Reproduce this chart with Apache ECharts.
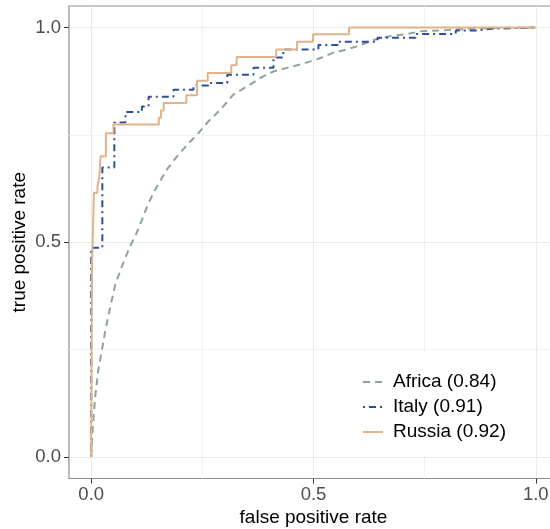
<!DOCTYPE html>
<html>
<head>
<meta charset="utf-8">
<script src="https://cdn.jsdelivr.net/npm/echarts@6/dist/echarts.min.js"></script>
<style>
  html, body { margin: 0; padding: 0; background: #fff; }
  #main { width: 550px; height: 529px; }
</style>
</head>
<body>
<div id="main"></div>
<script>
var seriesNames = ["Africa (0.84)", "Italy (0.91)", "Russia (0.92)"];
var majorTicks = [0, 0.5, 1];
var minorTicks = [0.25, 0.75];

// [false positive rate, true positive rate]
var africa = [
  [0, 0], [0.003, 0.063], [0.009, 0.141], [0.016, 0.203], [0.024, 0.249],
  [0.032, 0.296], [0.043, 0.350], [0.054, 0.401], [0.069, 0.444], [0.088, 0.492],
  [0.099, 0.514], [0.114, 0.552], [0.129, 0.592], [0.148, 0.630], [0.170, 0.669],
  [0.193, 0.700], [0.216, 0.727], [0.242, 0.755], [0.264, 0.782], [0.291, 0.809],
  [0.320, 0.844], [0.351, 0.863], [0.381, 0.883], [0.411, 0.898], [0.441, 0.906],
  [0.471, 0.914], [0.493, 0.921], [0.516, 0.929], [0.546, 0.942], [0.568, 0.947],
  [0.598, 0.956], [0.628, 0.968], [0.651, 0.976], [0.681, 0.981], [0.711, 0.985],
  [0.741, 0.991], [0.801, 0.994], [0.869, 0.998], [0.921, 0.999], [1, 1]
];

var italy = [
  [0, 0], [0, 0.487], [0.025, 0.487], [0.025, 0.674], [0.052, 0.674],
  [0.052, 0.779], [0.077, 0.779], [0.077, 0.803], [0.114, 0.803], [0.114, 0.816],
  [0.129, 0.816], [0.129, 0.839], [0.185, 0.839], [0.185, 0.855], [0.230, 0.855],
  [0.230, 0.865], [0.264, 0.865], [0.264, 0.871], [0.306, 0.871], [0.306, 0.890],
  [0.365, 0.890], [0.365, 0.906], [0.410, 0.906], [0.410, 0.930], [0.432, 0.930],
  [0.432, 0.949], [0.511, 0.949], [0.511, 0.959], [0.556, 0.959], [0.556, 0.967],
  [0.644, 0.967], [0.644, 0.976], [0.730, 0.976], [0.730, 0.985], [0.820, 0.985],
  [0.820, 0.993], [0.865, 0.993], [0.865, 0.997], [0.900, 0.997], [0.900, 1], [1, 1]
];

var russia = [
  [0, 0], [0.001, 0.25], [0.002, 0.46], [0.004, 0.53], [0.006, 0.615],
  [0.014, 0.615], [0.014, 0.63], [0.018, 0.63], [0.018, 0.65], [0.021, 0.65],
  [0.021, 0.70], [0.033, 0.70], [0.033, 0.754], [0.050, 0.754], [0.050, 0.774],
  [0.152, 0.774], [0.152, 0.79], [0.157, 0.79], [0.157, 0.807], [0.163, 0.807],
  [0.163, 0.824], [0.214, 0.824], [0.214, 0.842], [0.238, 0.842], [0.238, 0.876],
  [0.262, 0.876], [0.262, 0.894], [0.315, 0.894], [0.315, 0.912], [0.327, 0.912],
  [0.327, 0.931], [0.416, 0.931], [0.416, 0.949], [0.463, 0.949], [0.463, 0.967],
  [0.499, 0.967], [0.499, 0.984], [0.580, 0.984], [0.580, 1], [1, 1]
];

var colors = ["#8ea497", "#2e4f98", "#e0b38b"];

var chartDom = document.getElementById("main");
var myChart = echarts.init(chartDom, null, { renderer: "canvas" });
var fontFamily = "'Liberation Sans', Arial, sans-serif";

function fmt(v) { return Number(v).toFixed(1); }

function mainAxis(isX) {
  return {
    type: "value",
    min: -0.05,
    max: 1.05,
    position: isX ? "bottom" : "left",
    name: isX ? "false positive rate" : "true positive rate",
    nameLocation: "middle",
    nameMoveOverlap: false,
    nameGap: isX ? 30 : 40,
    nameTextStyle: { color: "#000", fontSize: 19, fontFamily: fontFamily },
    axisLine: { show: false, onZero: false },
    axisTick: { show: true, inside: false, length: 5, customValues: majorTicks, lineStyle: { color: "#333", width: 1 } },
    axisLabel: {
      customValues: majorTicks,
      formatter: fmt,
      margin: isX ? 7 : 8,
      color: "#4d4d4d",
      fontSize: 18.5,
      fontFamily: fontFamily
    },
    splitLine: { show: true, lineStyle: { color: "#ebebeb", width: 1 } },
    z: 1
  };
}

function minorAxis(isX) {
  return {
    type: "value",
    min: -0.05,
    max: 1.05,
    position: isX ? "bottom" : "left",
    axisLine: { show: false, onZero: false },
    axisTick: { show: false, customValues: minorTicks },
    axisLabel: { show: false, customValues: minorTicks },
    splitLine: { show: true, lineStyle: { color: "#f2f2f2", width: 1 } },
    z: 0
  };
}

var option = {
  animation: false,
  backgroundColor: "#fff",
  textStyle: { fontFamily: fontFamily },
  grid: {
    left: 69,
    top: 6,
    right: -8,
    bottom: 50.5,
    outerBoundsMode: "none",
    containLabel: false,
    show: true,
    borderColor: "#8c8c8c",
    borderWidth: 1.2,
    backgroundColor: "transparent"
  },
  legend: {
    data: seriesNames,
    orient: "vertical",
    left: 352,
    top: 353,
    backgroundColor: "#fff",
    padding: [19, 20, 14, 10],
    itemWidth: 20,
    itemHeight: 14,
    itemGap: 5,
    itemStyle: { opacity: 0 },
    textStyle: {
      color: "#000",
      fontSize: 19,
      lineHeight: 20,
      fontFamily: fontFamily,
      padding: [0, 0, 0, 5]
    }
  },
  xAxis: [mainAxis(true), minorAxis(true)],
  yAxis: [mainAxis(false), minorAxis(false)],
  series: [
    {
      name: seriesNames[0],
      type: "line",
      data: africa,
      symbol: "none",
      lineStyle: { color: colors[0], width: 2, type: [7, 5] },
      itemStyle: { color: colors[0] },
      z: 3
    },
    {
      name: seriesNames[1],
      type: "line",
      data: italy,
      symbol: "none",
      lineStyle: { color: colors[1], width: 2, type: [2, 4, 7, 4] },
      itemStyle: { color: colors[1] },
      z: 4
    },
    {
      name: seriesNames[2],
      type: "line",
      data: russia,
      symbol: "none",
      lineStyle: { color: colors[2], width: 2 },
      itemStyle: { color: colors[2] },
      z: 5
    }
  ]
};

option && myChart.setOption(option);
</script>
</body>
</html>
